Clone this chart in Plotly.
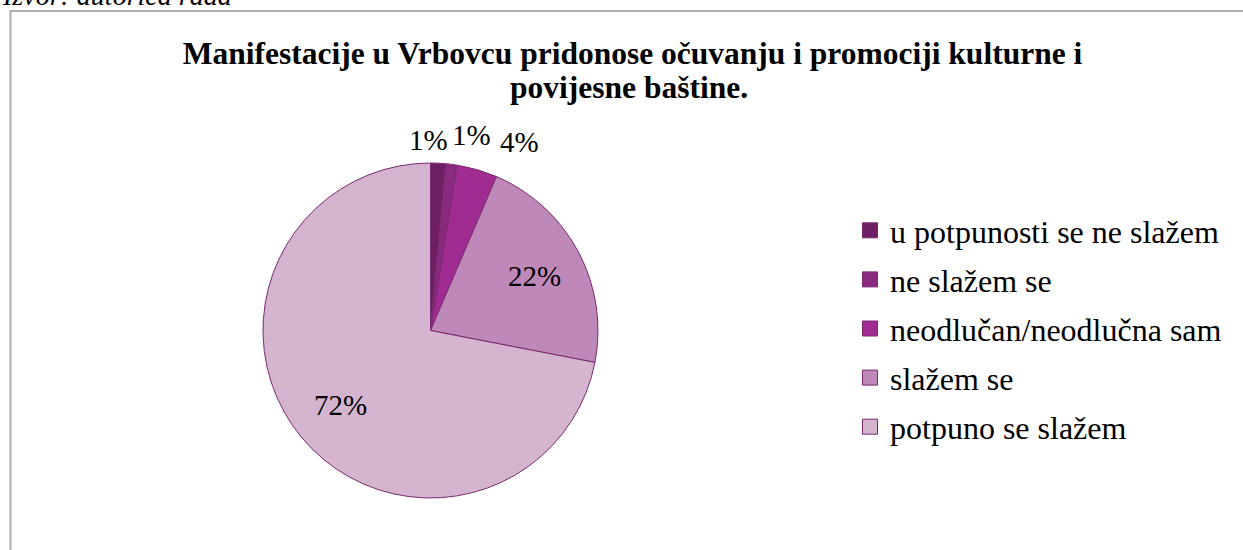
import math
import plotly.graph_objects as go

categories = ["u potpunosti se ne slažem", "ne slažem se", "neodlučan/neodlučna sam",
              "slažem se", "potpuno se slažem"]
values = [1.45, 1.1, 3.9, 21.6, 71.95]
colors = ["#6E1E63", "#8A2A7E", "#A02C92", "#BE88B8", "#D4B4CE"]
title_line1 = "Manifestacije u Vrbovcu pridonose očuvanju i promociji kulturne i"
title_line2 = "povijesne baštine."
source_text = "Izvor: autorica rada"

W, H = 1243, 550
FONT = "Liberation Serif"
EDGE = "#7A2A6E"

# pie geometry (pixels)
CX, CY, R = 430.5, 330.5, 167.5

fig = go.Figure()
fig.add_trace(go.Pie(
    labels=categories,
    values=values,
    sort=False,
    direction="clockwise",
    rotation=0,
    marker=dict(colors=colors, line=dict(color=EDGE, width=1)),
    textinfo="none",
    hoverinfo="label+percent",
    showlegend=False,
    domain=dict(x=[(CX - R) / W, (CX + R) / W], y=[(H - CY - R) / H, (H - CY + R) / H]),
))

# legend entries (one per category, same colours as the slices)
for cat, col in zip(categories, colors):
    fig.add_trace(go.Scatter(
        x=[None], y=[None], mode="markers", name=cat, legendgroup=cat,
        marker=dict(symbol="square", size=15, color=col, line=dict(color=EDGE, width=1)),
        hoverinfo="skip",
    ))

# percentage labels
total = sum(values)
pct = ["%d%%" % round(100 * v / total) for v in values]
annotations = []
outside_pos = [(428, 140), (471, 135), (519, 142)]
for i, (px, py) in enumerate(outside_pos):
    annotations.append(dict(text=pct[i], x=px / W, y=1 - py / H, xref="paper", yref="paper",
                            showarrow=False, xanchor="center", yanchor="middle",
                            font=dict(family=FONT, size=29, color="black")))
cum = 0.0
for i, v in enumerate(values):
    mid = (cum + v / 2) / total * 2 * math.pi
    cum += v
    if i < 3:
        continue
    px = CX + 0.7 * R * math.sin(mid)
    py = CY - 0.7 * R * math.cos(mid)
    annotations.append(dict(text=pct[i], x=px / W, y=1 - py / H, xref="paper", yref="paper",
                            showarrow=False, xanchor="center", yanchor="middle",
                            font=dict(family=FONT, size=29, color="black")))

annotations.append(dict(text="<b>" + title_line2 + "</b>", x=628.5 / W, y=1 - 87.5 / H,
                        xref="paper", yref="paper", showarrow=False,
                        xanchor="center", yanchor="middle",
                        font=dict(family=FONT, size=31.5, color="black")))
annotations.append(dict(text="<i>" + source_text + "</i>", xref="paper", yref="paper",
                        x=0, y=1 + 5 / H, xanchor="left", yanchor="middle",
                        showarrow=False,
                        font=dict(family=FONT, size=28, color="black")))

fig.update_layout(
    width=W, height=H,
    margin=dict(l=0, r=0, t=0, b=0),
    paper_bgcolor="white",
    plot_bgcolor="white",
    font=dict(family=FONT, color="black"),
    title=dict(text="<b>" + title_line1 + "</b>", x=632.5 / W, xanchor="center",
               y=1 - 53 / H, yanchor="middle",
               font=dict(family=FONT, size=31.5, color="black")),
    xaxis=dict(visible=False),
    yaxis=dict(visible=False),
    legend=dict(x=850 / W, y=1 - 203 / H, xanchor="left", yanchor="top",
                font=dict(family=FONT, size=32, color="black"),
                bgcolor="rgba(0,0,0,0)", itemwidth=30, tracegroupgap=4.5,
                itemclick=False, itemdoubleclick=False),
    shapes=[dict(type="rect", xref="paper", yref="paper",
                 x0=10.5 / W, x1=1.02, y0=-0.02, y1=1 - 11 / H,
                 line=dict(color="#AFAFAF", width=2), fillcolor="rgba(0,0,0,0)")],
    annotations=annotations,
)

fig.write_html("out.html", config={"displayModeBar": False},
               post_script="document.body.style.margin='0';")
